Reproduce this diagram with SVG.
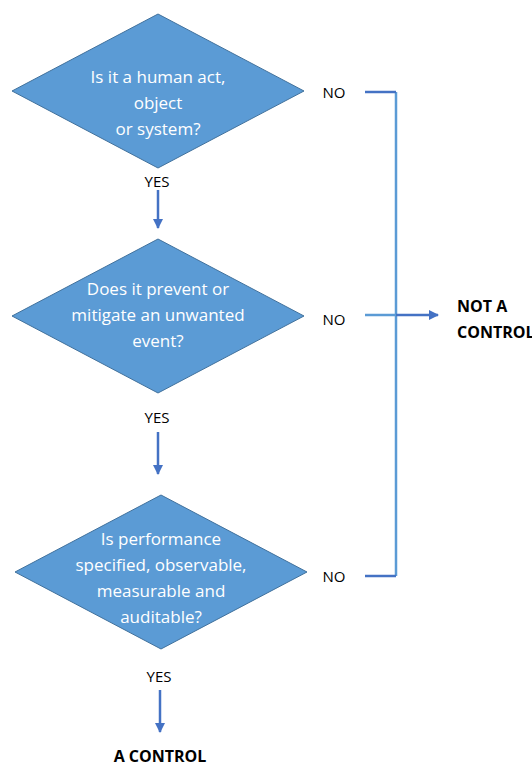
<svg xmlns="http://www.w3.org/2000/svg" width="532" height="766" viewBox="0 0 532 766">
  <style>
    .dec { fill: #5B9BD5; stroke: #41719C; stroke-width: 1; }
    .q { font-family: "Open Sans", "Liberation Sans", sans-serif; font-size: 17px; fill: #FFFFFF; text-anchor: middle; }
    .lbl { font-family: "Open Sans", "Liberation Sans", sans-serif; font-size: 15px; fill: #000000; text-anchor: middle; }
    .res { font-family: "Open Sans", "Liberation Sans", sans-serif; font-size: 16px; font-weight: bold; fill: #000000; }
    .dark { stroke: #4472C4; stroke-width: 2.5; fill: none; }
    .light { stroke: #5B9BD5; stroke-width: 2.5; fill: none; }
  </style>
  <defs>
    <marker id="arrow" viewBox="0 0 10 10" refX="9" refY="5" markerWidth="4" markerHeight="4" orient="auto" markerUnits="strokeWidth">
      <path d="M0,0 L10,5 L0,10 Z" fill="#4472C4"/>
    </marker>
  </defs>

  <!-- decision diamonds -->
  <g id="q1">
    <polygon class="dec" points="158,14 304,91 158,168 12,91"/>
    <text class="q" x="158" y="83">Is it a human act,</text>
    <text class="q" x="158" y="109">object</text>
    <text class="q" x="158" y="135">or system?</text>
  </g>

  <g id="q2">
    <polygon class="dec" points="158,239 304,316 158,393 12,316"/>
    <text class="q" x="158" y="295">Does it prevent or</text>
    <text class="q" x="158" y="321">mitigate an unwanted</text>
    <text class="q" x="158" y="347">event?</text>
  </g>

  <g id="q3">
    <polygon class="dec" points="161,495 307,572 161,649 15,572"/>
    <text class="q" x="161" y="545">Is performance</text>
    <text class="q" x="161" y="571">specified, observable,</text>
    <text class="q" x="161" y="597">measurable and</text>
    <text class="q" x="161" y="623">auditable?</text>
  </g>

  <!-- branch labels -->
  <g id="labels">
    <text class="lbl" x="157" y="187">YES</text>
    <text class="lbl" x="157" y="423">YES</text>
    <text class="lbl" x="159" y="682">YES</text>
    <text class="lbl" x="334" y="98">NO</text>
    <text class="lbl" x="334" y="325">NO</text>
    <text class="lbl" x="334" y="582">NO</text>
  </g>

  <!-- outcomes -->
  <g id="not-a-control">
    <text class="res" x="457" y="312">NOT A</text>
    <text class="res" x="457" y="338">CONTROL</text>
  </g>

  <g id="a-control">
    <text class="res" x="160" y="762" text-anchor="middle">A CONTROL</text>
  </g>

  <g id="connectors">
    <line class="dark" x1="158" y1="190" x2="158" y2="228" marker-end="url(#arrow)"/>
    <line class="dark" x1="158" y1="432" x2="158" y2="474" marker-end="url(#arrow)"/>
    <line class="dark" x1="160" y1="690" x2="160" y2="732" marker-end="url(#arrow)"/>
    <line class="light" x1="396" y1="92" x2="396" y2="576"/>
    <polyline class="dark" points="365,92 396,92"/>
    <polyline class="dark" points="365,576 396,576"/>
    <line class="light" x1="365" y1="315" x2="396" y2="315"/>
    <line class="dark" x1="396" y1="315" x2="438" y2="315" marker-end="url(#arrow)"/>
  </g>
</svg>
